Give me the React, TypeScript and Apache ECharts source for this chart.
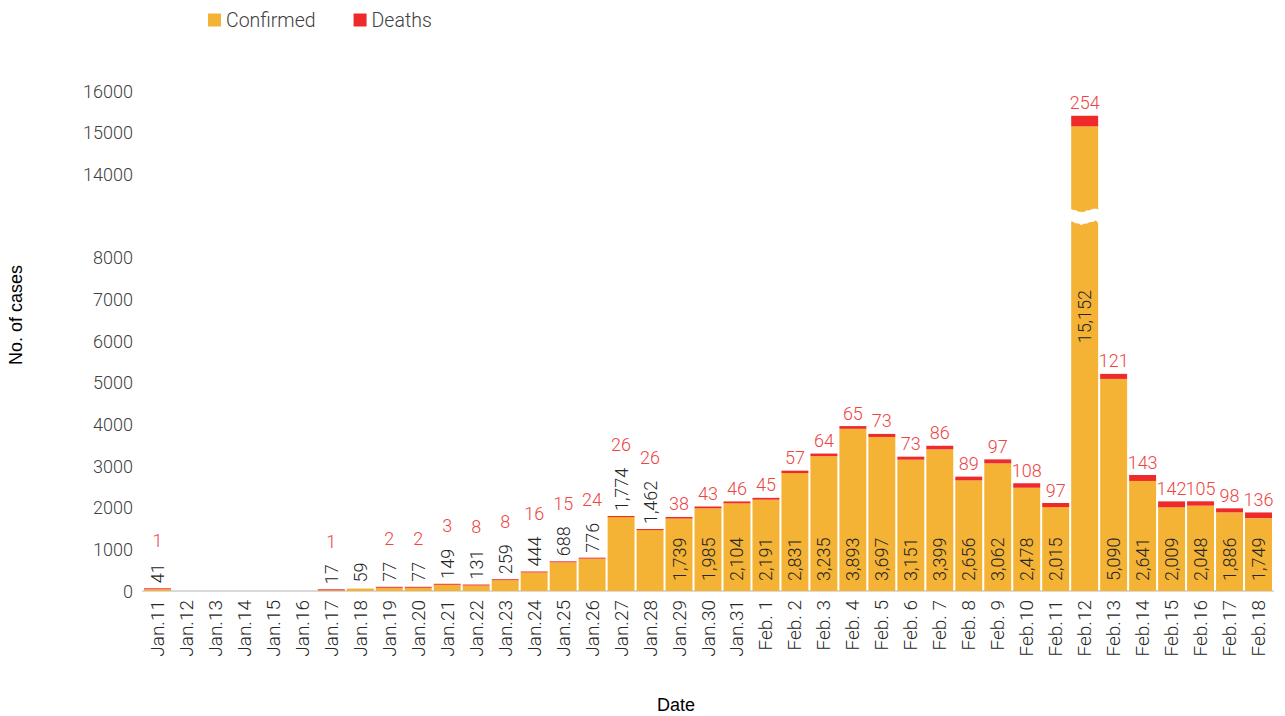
import React, { useEffect, useRef } from 'react';
import * as echarts from 'echarts';

const categories = [
  'Jan.11', 'Jan.12', 'Jan.13', 'Jan.14', 'Jan.15', 'Jan.16', 'Jan.17', 'Jan.18', 'Jan.19', 'Jan.20',
  'Jan.21', 'Jan.22', 'Jan.23', 'Jan.24', 'Jan.25', 'Jan.26', 'Jan.27', 'Jan.28', 'Jan.29', 'Jan.30',
  'Jan.31', 'Feb. 1', 'Feb. 2', 'Feb. 3', 'Feb. 4', 'Feb. 5', 'Feb. 6', 'Feb. 7', 'Feb. 8', 'Feb. 9',
  'Feb.10', 'Feb.11', 'Feb.12', 'Feb.13', 'Feb.14', 'Feb.15', 'Feb.16', 'Feb.17', 'Feb.18',
];

const confirmed: (number | null)[] = [
  41, null, null, null, null, null, 17, 59, 77, 77,
  149, 131, 259, 444, 688, 776, 1774, 1462, 1739, 1985,
  2104, 2191, 2831, 3235, 3893, 3697, 3151, 3399, 2656, 3062,
  2478, 2015, 15152, 5090, 2641, 2009, 2048, 1886, 1749,
];

const deaths: (number | null)[] = [
  1, null, null, null, null, null, 1, null, 2, 2,
  3, 8, 8, 16, 15, 24, 26, 26, 38, 43,
  46, 45, 57, 64, 65, 73, 73, 86, 89, 97,
  108, 97, 254, 121, 143, 142, 105, 98, 136,
];

const yTicks = [0, 1000, 2000, 3000, 4000, 5000, 6000, 7000, 8000, 14000, 15000, 16000];
const lastOutsideLabelDate = 'Jan.28';
const middleLabelDate = 'Feb.12';

const ORANGE = '#F4B335';
const RED = '#EE2A2A';
const FONT = 'Roboto, "DejaVu Sans", sans-serif';
const NAME_FONT = '"Liberation Sans", Arial, sans-serif';

const fmt = (n: number) => n.toLocaleString('en-US');
const textLen = (s: string) => {
  let w = 0;
  for (const c of s) w += c === ',' ? 4 : 9.6;
  return w;
};

export default function App() {
  const ref = useRef<HTMLDivElement>(null);
  useEffect(() => {
    if (!ref.current) return;
    const chart = echarts.init(ref.current, undefined, { renderer: 'svg' });
    const lastOutside = categories.indexOf(lastOutsideLabelDate);

    const confirmedData = confirmed.map((v, i) => {
      if (v == null) return '-';
      if (i <= lastOutside) {
        return { value: v, label: { position: 'top', distance: 6 } };
      }
      if (categories[i] === middleLabelDate) {
        return { value: v, label: { position: 'inside', align: 'center', offset: [42, 0] } };
      }
      return { value: v };
    });

    const deathsData = deaths.map((v, i) => {
      if (v == null) return '-';
      const c = confirmed[i];
      const outside = i <= lastOutside && c != null;
      const dist = outside ? 6 + textLen(fmt(c as number)) + 14 : 4;
      return { value: v, label: { distance: dist } };
    });

    chart.setOption({
      animation: false,
      backgroundColor: '#fff',
      legend: {
        left: 203,
        top: 5,
        icon: 'rect',
        itemWidth: 13,
        itemHeight: 13,
        itemGap: 38,
        textStyle: { fontFamily: FONT, fontSize: 19.5, fontWeight: 300, color: '#404040' },
        data: ['Confirmed', 'Deaths'],
      },
      grid: { left: 143, right: 12, top: 91, bottom: 125, containLabel: false, outerBoundsMode: 'none' },
      xAxis: {
        type: 'category',
        data: categories,
        name: 'Date',
        nameLocation: 'middle',
        nameGap: 105,
        nameTextStyle: { fontFamily: NAME_FONT, fontSize: 18, color: '#000', padding: [0, 64, 0, 0] },
        axisLine: { lineStyle: { color: '#D9D9D9', width: 2 } },
        axisTick: { show: false },
        axisLabel: {
          rotate: 90,
          margin: 9,
          interval: 0,
          fontFamily: FONT,
          fontSize: 19,
          fontWeight: 300,
          color: '#262626',
        },
      },
      yAxis: {
        type: 'value',
        min: 0,
        max: 16000,
        interval: 1000,
        breaks: [{ start: 8850, end: 13150, gap: 300 }],
        breakArea: {
          show: true,
          itemStyle: { color: '#fff', borderColor: '#fff', borderWidth: 1, opacity: 1 },
          zigzagAmplitude: 2,
        },
        breakLabelLayout: { moveOverlap: false },
        name: 'No. of cases',
        nameLocation: 'middle',
        nameGap: 118,
        nameTextStyle: { fontFamily: NAME_FONT, fontSize: 18, color: '#000', padding: [0, 0, 0, 52] },
        axisLine: { show: false },
        axisTick: { show: false },
        splitLine: { show: false },
        axisLabel: {
          margin: 10,
          hideOverlap: false,
          fontFamily: FONT,
          fontSize: 18,
          fontWeight: 300,
          color: '#404040',
          formatter: (v: number) => (yTicks.includes(v) ? String(v) : ''),
        },
      },
      series: [
        {
          name: 'Confirmed',
          type: 'bar',
          stack: 'total',
          barCategoryGap: '7%',
          itemStyle: { color: ORANGE },
          label: {
            show: true,
            position: 'insideBottom',
            distance: 10,
            rotate: 90,
            align: 'left',
            verticalAlign: 'middle',
            fontFamily: FONT,
            fontSize: 18,
            fontWeight: 300,
            color: '#262626',
            formatter: (p: any) => fmt(p.value),
          },
          data: confirmedData,
        },
        {
          name: 'Deaths',
          type: 'bar',
          stack: 'total',
          barCategoryGap: '7%',
          barMinHeight: 1,
          itemStyle: { color: RED },
          label: {
            show: true,
            position: 'top',
            fontFamily: FONT,
            fontSize: 18,
            fontWeight: 300,
            color: '#EE4444',
            formatter: (p: any) => fmt(p.value),
          },
          data: deathsData,
        },
      ],
    });
    return () => chart.dispose();
  }, []);
  return <div ref={ref} style={{ width: 1285, height: 716, position: 'absolute', left: 0, top: 0 }} />;
}
